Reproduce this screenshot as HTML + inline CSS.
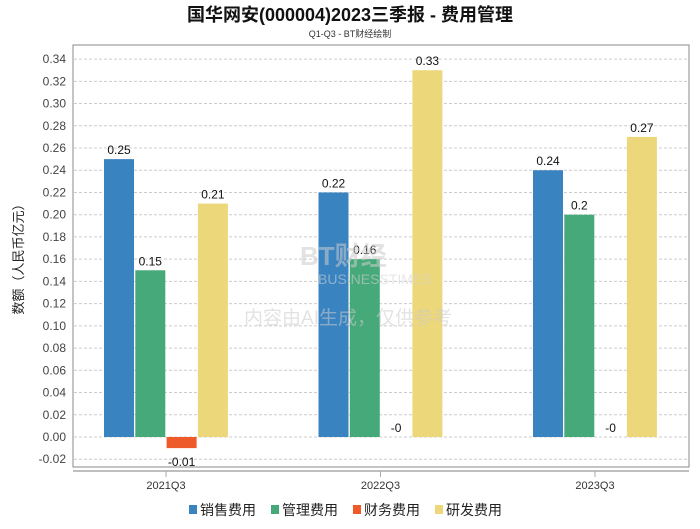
<!DOCTYPE html>
<html><head><meta charset="utf-8"><style>
body{margin:0;background:#fff;font-family:"Liberation Sans","Noto Sans CJK SC",sans-serif}
</style></head><body>
<svg width="700" height="524" xmlns="http://www.w3.org/2000/svg" font-family="Liberation Sans, Noto Sans CJK SC, sans-serif">
<text x="350" y="21" text-anchor="middle" font-size="18" font-weight="bold" fill="#111">国华网安(000004)2023三季报 - 费用管理</text>
<text x="350" y="37" text-anchor="middle" font-size="9" fill="#333">Q1-Q3 - BT财经绘制</text>
<rect x="73" y="45" width="616" height="422" fill="none" stroke="#888"/>
<line x1="73" y1="471" x2="689" y2="471" stroke="#aaa" stroke-width="1.5"/>
<g id="grid"></g>
<g id="bars"></g>
<g opacity="0.55">
<text x="300" y="265" font-size="26" fill="#ccc" font-weight="bold">BT财经</text>
<text x="318" y="284" font-size="14" fill="#d5d5d5">BUSINESSTIMES</text>
<text x="348" y="324" text-anchor="middle" font-size="19" fill="#ccc">内容由AI生成，仅供参考</text>
</g>
<text transform="translate(23,256) rotate(-90)" text-anchor="middle" font-size="13" fill="#222">数额（人民币亿元）</text>
<g id="legend"></g>
</svg>
<script>
const categories=["2021Q3","2022Q3","2023Q3"];
const seriesNames=["销售费用","管理费用","财务费用","研发费用"];
const colors=["#3a83c1","#46a97a","#ee5a2a","#ecd77a"];
const sales=[0.25,0.22,0.24];
const admin=[0.15,0.16,0.2];
const finance=[-0.01,0,0];
const rd=[0.21,0.33,0.27];
const financeLabels=["-0.01","-0","-0"];
const yTicks=[-0.02,0,0.02,0.04,0.06,0.08,0.10,0.12,0.14,0.16,0.18,0.20,0.22,0.24,0.26,0.28,0.30,0.32,0.34];
const NS="http://www.w3.org/2000/svg";
const svg=document.querySelector('svg');
const y=v=>437-v*1111.5;
const x=i=>166+214.5*i;
function mk(t,a,p){const e=document.createElementNS(NS,t);for(const k in a)e.setAttribute(k,a[k]);(p||svg).appendChild(e);return e;}
const grid=document.getElementById('grid');
yTicks.forEach(v=>{
 const l=mk('line',{x1:74,x2:688,y1:y(v),y2:y(v),stroke:'#ccc','stroke-dasharray':'3,2'},grid);
 
 
 const t=mk('text',{x:66,y:y(v)+4,'text-anchor':'end','font-size':12,fill:'#444'},grid);
 t.textContent=v.toFixed(2);
 
 
});
const bars=document.getElementById('bars');
const series=[sales,admin,finance,rd];
categories.forEach((c,i)=>{
 const cx=x(i);
 const tk=mk('line',{x1:cx,x2:cx,y1:471,y2:477,stroke:'#aaa'},bars);
 
 
 const t=mk('text',{x:cx,y:489,'text-anchor':'middle','font-size':11,fill:'#333'},bars);
 t.textContent=c;
 
 
 series.forEach((s,j)=>{
  const v=s[i];const bx=cx-62+j*31.3;
  const top=Math.min(y(v),y(0)),h=Math.abs(y(v)-y(0));
  const r=mk('rect',{x:bx,y:top,width:30,height:h,fill:colors[j]},bars);
  
  
  const lbl=j===2?financeLabels[i]:String(v);
  const ly=v<0?y(v)+18:y(v)-5;
  const tt=mk('text',{x:bx+15,y:ly,'text-anchor':'middle','font-size':12,fill:'#111'},bars);
  tt.textContent=lbl;
  
  
 });
});
const lg=document.getElementById('legend');
const lx=[189,271,353,435];
seriesNames.forEach((n,j)=>{
 const r=mk('rect',{x:lx[j],y:505,width:8,height:9,fill:colors[j]},lg);
 
 
 const t=mk('text',{x:lx[j]+11,y:515,'font-size':14,fill:'#222'},lg);
 t.textContent=n;
 
 
});
</script>
</body></html>
